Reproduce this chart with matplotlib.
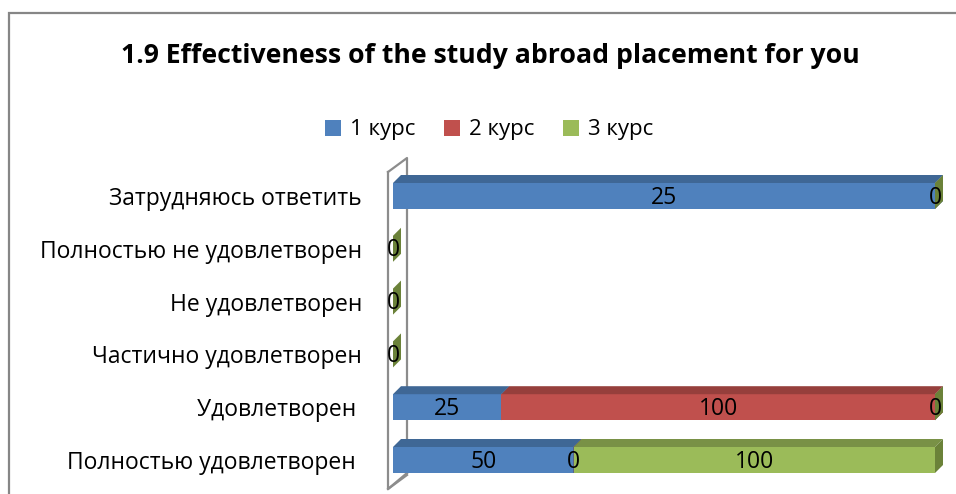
import matplotlib
matplotlib.use('Agg')
import matplotlib.pyplot as plt
from matplotlib.patches import Polygon, Patch, Rectangle

plt.rcParams['font.family'] = ['Open Sans', 'DejaVu Sans']

categories = ['Затрудняюсь ответить', 'Полностью не удовлетворен', 'Не удовлетворен',
              'Частично удовлетворен', 'Удовлетворен ', 'Полностью удовлетворен ']
series_names = ['1 курс', '2 курс', '3 курс']
kurs1 = [25, None, None, None, 25, 50]
kurs2 = [None, None, None, None, 100, 0]
kurs3 = [0, 0, 0, 0, 0, 100]
series = [kurs1, kurs2, kurs3]

front = ['#4F81BD', '#C0504D', '#9BBB59']
top = ['#3F6795', '#963F3C', '#799146']
side = ['#3A5E8A', '#8A3A37', '#6B8239']

W, H = 956, 494
fig = plt.figure(figsize=(W / 100, H / 100), dpi=100)

# plot area in pixels (front face of bars)
x0_px, x1_px = 393, 935
row0_px, row_step = 196, 52.8
top_px = 150
ax = fig.add_axes([x0_px / W, 0, (x1_px - x0_px) / W, (H - top_px) / H])
ax.set_xlim(0, 100)
n = len(categories)
ax.set_ylim(n - 1 + (H - (row0_px + (n - 1) * row_step)) / row_step,
            -(row0_px - top_px) / row_step)

ux = (x1_px - x0_px) / 100  # px per x unit
dx = 8 / ux
dy = 8 / row_step
bh = 26 / row_step

# 100% stacking
totals = [sum(v[i] for v in series if v[i] is not None) for i in range(n)]

# wall (axis plane)
wall_c = '#8C8C8C'
wx0, wx1 = -5 / ux, 14 / ux
ax.plot([wx1, wx1, wx0], [5 + 13 / row_step, -38 / row_step, -24 / row_step],
        color=wall_c, lw=1.6, clip_on=False, zorder=1)
ax.plot([wx0, wx0, wx1], [-24 / row_step, 5 + 29 / row_step, 5 + 15 / row_step],
        color=wall_c, lw=1.6, clip_on=False, zorder=5)
ax.plot([wx0, wx1], [5 + 29 / row_step, 5 + 13 / row_step],
        color=wall_c, lw=1.6, clip_on=False, zorder=1)

z = 3
left = [0.0] * n
for s, vals in enumerate(series):
    for i, v in enumerate(vals):
        if v is None:
            continue
        w = 100 * v / totals[i] if totals[i] else 0
        l = left[i]
        yt, yb = i - bh / 2, i + bh / 2
        if w > 0:
            ax.add_patch(Rectangle((l, yt), w, bh, facecolor=front[s], edgecolor='none',
                                   zorder=z, clip_on=False))
            ax.add_patch(Polygon([(l, yt), (l + w, yt), (l + w + dx, yt - dy), (l + dx, yt - dy)],
                                 closed=True, facecolor=top[s], edgecolor='none',
                                 zorder=z, clip_on=False))
        ax.add_patch(Polygon([(l + w, yt), (l + w + dx, yt - dy), (l + w + dx, yb - dy), (l + w, yb)],
                             closed=True, facecolor=side[s], edgecolor='none',
                             zorder=z, clip_on=False))
        ax.text(l + w / 2, i + 0.03, str(v), ha='center', va='center', fontsize=16.5,
                color='black', zorder=10, clip_on=False)
        left[i] = l + w
        z += 0.01

ax.set_yticks(range(n))
ax.set_yticklabels(categories, fontsize=16.5)
ax.tick_params(axis='y', length=0, pad=(x0_px - 362) * 0.72)
ax.set_xticks([])
for sp in ax.spines.values():
    sp.set_visible(False)
ax.patch.set_alpha(0)

fig.text(490 / W, 1 - 56 / H, '1.9 Effectiveness of the study abroad placement for you',
         ha='center', va='center', fontsize=19.2, fontweight='bold')

handles = [Patch(facecolor=c, edgecolor='none') for c in front]
fig.legend(handles, series_names, loc='center', bbox_to_anchor=(489 / W, 1 - 130 / H),
           ncol=3, frameon=False, fontsize=16, handlelength=0.72, handleheight=0.72,
           handletextpad=0.4, columnspacing=1.3)

# chart border
fig.add_artist(Rectangle((9 / W, -0.1), 1.2, 1.1 - 13 / H, transform=fig.transFigure,
                         facecolor='none', edgecolor='#868686', lw=1.6))

fig.savefig('out.png', dpi=100)
